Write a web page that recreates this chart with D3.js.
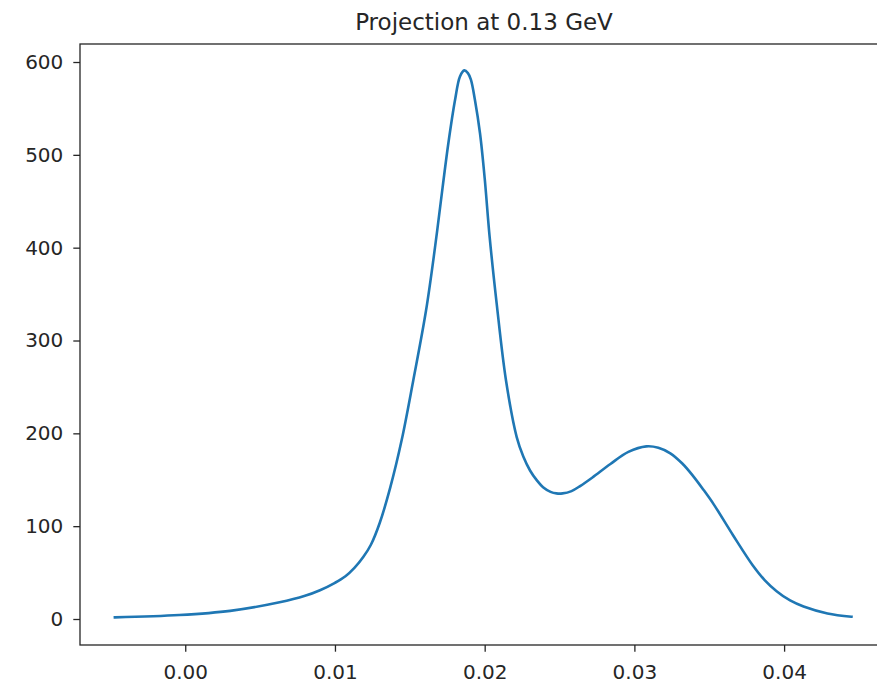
<!DOCTYPE html>
<html>
<head>
<meta charset="utf-8">
<script src="https://cdn.jsdelivr.net/npm/d3@7"></script>
<style>
  html, body { margin: 0; padding: 0; background: #fff; }
  svg { display: block; }
  text { font-family: "DejaVu Sans", sans-serif; fill: #262626; }
</style>
</head>
<body>
<svg id="chart" width="877" height="686"></svg>
<script>
// Projected spectrum at 0.13 GeV
const titleText = "Projection at 0.13 GeV";
const xValues = [
  -0.0047, -0.0004, 0.0030, 0.0063, 0.0080, 0.0090, 0.0100, 0.0107, 0.0113, 0.0119,
  0.0124, 0.0130, 0.0137, 0.01446, 0.01523, 0.01608, 0.01668, 0.01719, 0.01757, 0.01802,
  0.01835, 0.01864, 0.01888, 0.01908, 0.01935, 0.01969, 0.0200, 0.02033, 0.0208, 0.02142,
  0.02214, 0.02258, 0.02303, 0.0235, 0.0239, 0.0244, 0.0248, 0.0252, 0.0258, 0.0264,
  0.0272, 0.0284, 0.0296, 0.0308, 0.0316, 0.0324, 0.0332, 0.0339, 0.0346, 0.0353,
  0.0366, 0.0379, 0.0387, 0.0395, 0.0404, 0.0413, 0.0429, 0.0445
];
const yValues = [
  1.8, 4.3, 8.8, 18, 25, 31, 39, 46, 55, 67,
  80, 104, 142, 193, 257, 332, 400, 465, 512, 559,
  584.5, 591, 588, 581, 559, 523, 475, 412, 340, 257.5,
  196, 175, 160, 149, 142, 137, 135.3, 135.3, 137.8, 143.5,
  152.5, 167, 180, 186, 184.5, 178.5, 167.5, 154.5, 139.5, 123.5,
  90, 58, 42, 30, 20, 13.5, 6, 2.5
];
const xTicks = [0.00, 0.01, 0.02, 0.03, 0.04];
const yTicks = [0, 100, 200, 300, 400, 500, 600];

const svg = d3.select("#chart");
const plot = { left: 80, right: 888, top: 44, bottom: 645 };

const x = d3.scaleLinear().domain([-0.00703, 0.04694]).range([plot.left, plot.right]);
const y = d3.scaleLinear().domain([-28, 619.4]).range([plot.bottom, plot.top]);

const points = xValues.map((v, i) => [v, yValues[i]]);

// Curve
svg.append("path")
  .datum(points)
  .attr("fill", "none")
  .attr("stroke", "#1f77b4")
  .attr("stroke-width", 2.6)
  .attr("stroke-linejoin", "round")
  .attr("stroke-linecap", "square")
  .attr("d", d3.line().x(d => x(d[0])).y(d => y(d[1])).curve(d3.curveCatmullRom.alpha(0.5)));

// Axes
const fontSize = 20;
const xAxis = svg.append("g")
  .attr("transform", `translate(0,${plot.bottom})`)
  .call(d3.axisBottom(x).tickValues(xTicks).tickFormat(d3.format(".2f"))
    .tickSizeInner(6.7).tickSizeOuter(0).tickPadding(13));
const yAxis = svg.append("g")
  .attr("transform", `translate(${plot.left},0)`)
  .call(d3.axisLeft(y).tickValues(yTicks).tickFormat(d3.format("d"))
    .tickSizeInner(6.7).tickSizeOuter(0).tickPadding(10));

[xAxis, yAxis].forEach(g => {
  g.select(".domain").remove();
  g.selectAll(".tick line").attr("stroke", "#262626").attr("stroke-width", 1.3);
  g.selectAll(".tick text")
    .attr("font-family", "DejaVu Sans, sans-serif")
    .attr("font-size", fontSize)
    .attr("fill", "#262626");
});

// Frame
svg.append("rect")
  .attr("x", plot.left)
  .attr("y", plot.top)
  .attr("width", plot.right - plot.left)
  .attr("height", plot.bottom - plot.top)
  .attr("fill", "none")
  .attr("stroke", "#262626")
  .attr("stroke-width", 1.3);

// Title
svg.append("text")
  .attr("x", (plot.left + plot.right) / 2)
  .attr("y", 30)
  .attr("text-anchor", "middle")
  .attr("font-size", 23)
  .text(titleText);
</script>
</body>
</html>
